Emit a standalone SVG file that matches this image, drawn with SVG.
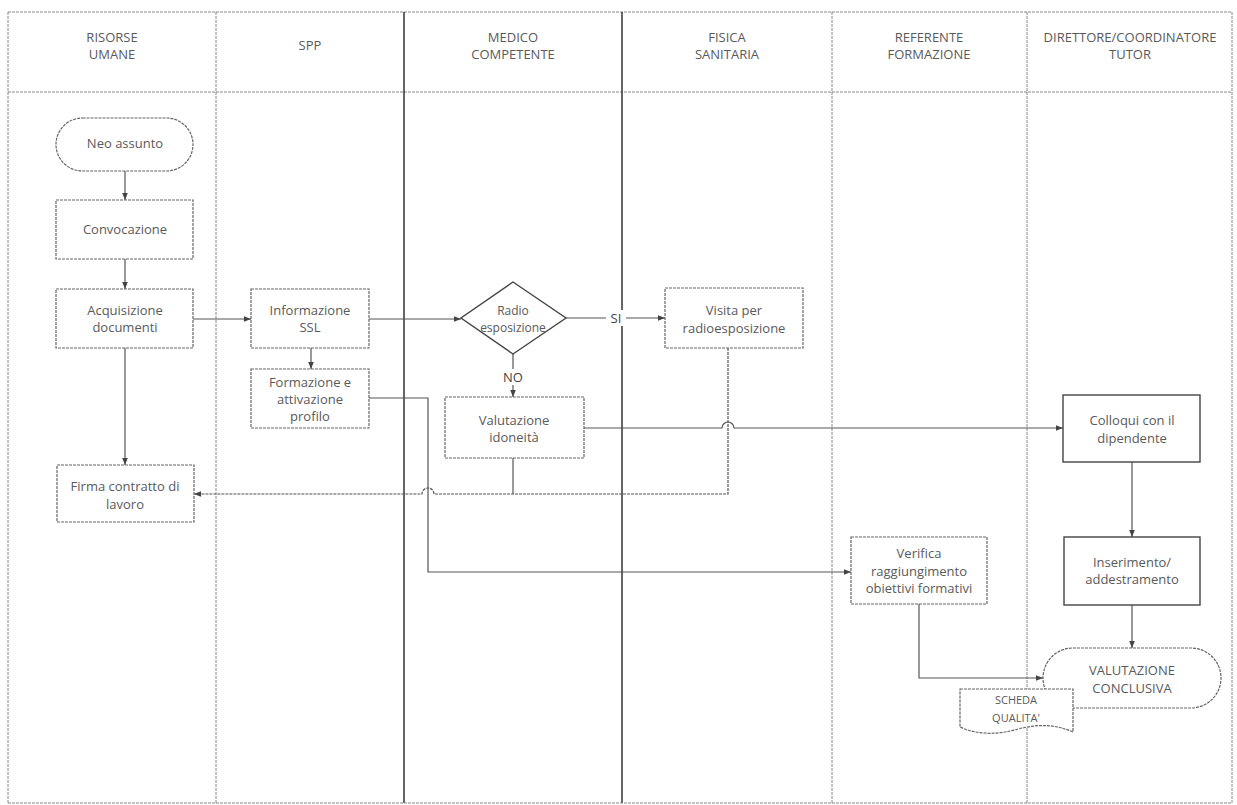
<svg xmlns="http://www.w3.org/2000/svg" width="1237" height="805" viewBox="0 0 1237 805">
<defs>
<marker id="ah" viewBox="0 0 10 10" refX="10" refY="5" markerWidth="7" markerHeight="7" orient="auto" markerUnits="userSpaceOnUse">
<path d="M0 1 L10 5 L0 9 Z" fill="#444"/>
</marker>
<style>
.lane{stroke:#888;stroke-width:1;fill:none;stroke-dasharray:3 1}
.laneB{stroke:#333;stroke-width:1.5;fill:none}
.box{fill:#fff;stroke:#666;stroke-width:1.2;stroke-dasharray:3 1}
.boxD{fill:#fff;stroke:#444;stroke-width:1.4}
.con{fill:none;stroke:#555;stroke-width:1.2}
.t{font-family:"Open Sans","Liberation Sans",sans-serif;font-size:13px;fill:#5a5a5a;text-anchor:middle}
.h{font-family:"Open Sans","Liberation Sans",sans-serif;font-size:13px;fill:#5a5a5a;text-anchor:middle}
.lbl{font-family:"Open Sans","Liberation Sans",sans-serif;font-size:13px;fill:#444;text-anchor:middle}
</style>
</defs>
<rect width="1237" height="805" fill="#fff"/>
<g id="lanes">
<line class="lane" x1="8" y1="12" x2="1232" y2="12"/>
<line class="lane" x1="8" y1="92" x2="1232" y2="92"/>
<line class="lane" x1="8" y1="12" x2="8" y2="803"/>
<line class="lane" x1="216" y1="12" x2="216" y2="803"/>
<line class="laneB" x1="404" y1="12" x2="404" y2="803"/>
<line class="laneB" x1="622" y1="12" x2="622" y2="803"/>
<line class="lane" x1="832" y1="12" x2="832" y2="803"/>
<line class="lane" x1="1027" y1="12" x2="1027" y2="803"/>
<line class="lane" x1="1232" y1="12" x2="1232" y2="803"/>
<line class="lane" x1="8" y1="803" x2="1232" y2="803"/>
<text class="h" x="112" y="42">RISORSE</text>
<text class="h" x="112" y="59">UMANE</text>
<text class="h" x="310" y="50">SPP</text>
<text class="h" x="513" y="42">MEDICO</text>
<text class="h" x="513" y="59">COMPETENTE</text>
<text class="h" x="727" y="42">FISICA</text>
<text class="h" x="727" y="59">SANITARIA</text>
<text class="h" x="929" y="42">REFERENTE</text>
<text class="h" x="929" y="59">FORMAZIONE</text>
<text class="h" x="1130" y="42">DIRETTORE/COORDINATORE</text>
<text class="h" x="1130" y="59">TUTOR</text>
</g>
<g id="connectors">
<path class="con" d="M125 171 V200" marker-end="url(#ah)"/>
<path class="con" d="M125 259 V289" marker-end="url(#ah)"/>
<path class="con" d="M193 319 H251" marker-end="url(#ah)"/>
<path class="con" d="M125 348 V465" marker-end="url(#ah)"/>
<path class="con" d="M311 348 V369" marker-end="url(#ah)"/>
<path class="con" d="M369 319 H461" marker-end="url(#ah)"/>
<path class="con" d="M566 318 H665" marker-end="url(#ah)"/>
<path class="con" d="M513 354 V397" marker-end="url(#ah)"/>
<path class="con" d="M584 428 H722 A6 6 0 0 1 734 428 H1063" marker-end="url(#ah)"/>
<path class="con" d="M728 348 V494 H434 A6 6 0 0 0 422 494 H194" marker-end="url(#ah)" stroke-dasharray="3 1"/>
<path class="con" d="M513 458 V494"/>
<path class="con" d="M369 398 H428 V572 H851" marker-end="url(#ah)"/>
<path class="con" d="M1132 462 V537" marker-end="url(#ah)"/>
<path class="con" d="M1132 605 V648" marker-end="url(#ah)"/>
<path class="con" d="M919 604 V678 H1043" marker-end="url(#ah)"/>
<rect x="606" y="310" width="20" height="16" fill="#fff"/>
<text class="lbl" x="616" y="323">SI</text>
<rect x="502" y="369" width="22" height="16" fill="#fff"/>
<text class="lbl" x="513" y="382">NO</text>
</g>
<g id="neo-assunto">
<rect class="box" x="56" y="118" width="137" height="53" rx="26.5" ry="26.5"/>
<text class="t" x="125" y="148">Neo assunto</text>
</g>
<g id="convocazione">
<rect class="box" x="56" y="200" width="137" height="59"/>
<text class="t" x="125" y="234">Convocazione</text>
</g>
<g id="acquisizione">
<rect class="box" x="56" y="289" width="137" height="59"/>
<text class="t" x="125" y="315">Acquisizione</text>
<text class="t" x="125" y="332">documenti</text>
</g>
<g id="firma">
<rect class="box" x="57" y="465" width="137" height="57"/>
<text class="t" x="125" y="491">Firma contratto di</text>
<text class="t" x="125" y="509">lavoro</text>
</g>
<g id="informazione">
<rect class="box" x="251" y="289" width="118" height="59"/>
<text class="t" x="310" y="315">Informazione</text>
<text class="t" x="310" y="332">SSL</text>
</g>
<g id="formazione">
<rect class="box" x="251" y="369" width="118" height="59"/>
<text class="t" x="310" y="387">Formazione e</text>
<text class="t" x="310" y="404">attivazione</text>
<text class="t" x="310" y="421">profilo</text>
</g>
<g id="radio">
<polygon class="boxD" points="513,282 566,318 513,354 461,318"/>
<text class="t" x="513" y="315" style="font-size:12px">Radio</text>
<text class="t" x="513" y="332" style="font-size:12px">esposizione</text>
</g>
<g id="valutazione-idoneita">
<rect class="box" x="445" y="397" width="139" height="61"/>
<text class="t" x="514" y="425">Valutazione</text>
<text class="t" x="514" y="442">idoneità</text>
</g>
<g id="visita">
<rect class="box" x="665" y="288" width="138" height="60"/>
<text class="t" x="734" y="315">Visita per</text>
<text class="t" x="734" y="333">radioesposizione</text>
</g>
<g id="colloqui">
<rect class="boxD" x="1063" y="395" width="137" height="67"/>
<text class="t" x="1132" y="425">Colloqui con il</text>
<text class="t" x="1132" y="443">dipendente</text>
</g>
<g id="inserimento">
<rect class="boxD" x="1064" y="537" width="136" height="68"/>
<text class="t" x="1132" y="567">Inserimento/</text>
<text class="t" x="1132" y="584">addestramento</text>
</g>
<g id="verifica">
<rect class="box" x="851" y="537" width="136" height="67"/>
<text class="t" x="919" y="558">Verifica</text>
<text class="t" x="919" y="576">raggiungimento</text>
<text class="t" x="919" y="593">obiettivi formativi</text>
</g>
<g id="valutazione-conclusiva">
<rect class="box" x="1043" y="648" width="178" height="60" rx="30" ry="30"/>
<text class="t" x="1132" y="675">VALUTAZIONE</text>
<text class="t" x="1132" y="693">CONCLUSIVA</text>
</g>
<g id="scheda-qualita">
<path class="box" d="M960 689 H1073 V732 C1055 724 1038 724 1018 729 C998 735 977 735 960 727 Z"/>
<text class="t" x="1016" y="704" style="font-size:11px">SCHEDA</text>
<text class="t" x="1016" y="722" style="font-size:11px">QUALITA'</text>
</g>
</svg>
